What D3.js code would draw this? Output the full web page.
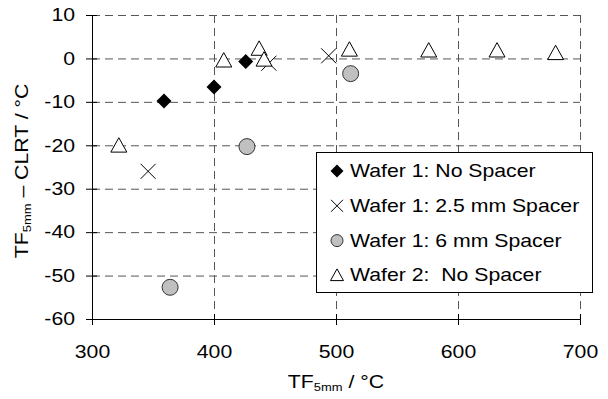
<!DOCTYPE html>
<html>
<head>
<meta charset="utf-8">
<script src="https://cdn.jsdelivr.net/npm/d3@7"></script>
<style>
  body { margin: 0; background: #fff; }
  svg text { font-family: "Liberation Sans", Arial, sans-serif; fill: #000; }
</style>
</head>
<body>
<svg id="chart"></svg>
<script>
var width = 608, height = 399;
var fs = 18, sx = 1.18; // font size, horizontal stretch of the text

// data
var seriesNames = ["Wafer 1: No Spacer", "Wafer 1: 2.5 mm Spacer", "Wafer 1: 6 mm Spacer", "Wafer 2:  No Spacer"];
var noSpacerX = [359, 400, 426];
var noSpacerY = [-9.8, -6.6, -0.7];
var spacer25X = [346, 445, 494];
var spacer25Y = [-26, -1.1, 0.6];
var spacer6X = [427, 512, 364];
var spacer6Y = [-20.3, -3.5, -52.7];
var wafer2X = [322, 408, 437, 441, 511, 576, 632, 680];
var wafer2Y = [-20.1, -0.5, 2.2, -0.3, 2.0, 1.8, 1.8, 1.2];
var xTicks = [300, 400, 500, 600, 700];
var yTicks = [10, 0, -10, -20, -30, -40, -50, -60];

const svg = d3.select('svg#chart')
  .attr('width', width)
  .attr('height', height);

var x = d3.scaleLinear().domain([300, 700]).range([92, 580]);
var y = d3.scaleLinear().domain([-60, 10]).range([319, 15]);

// grid
const grid = svg.append("g").attr("id", "grid");
grid.selectAll(".gridH").data(yTicks.filter(d => d > -60))
  .enter().append("line")
    .attr("x1", x(300)).attr("x2", x(700))
    .attr("y1", d => y(d) + 0.5).attr("y2", d => y(d) + 0.5)
    .style("stroke", "#555")
    .style("stroke-dasharray", "8,5");
grid.selectAll(".gridV").data(xTicks.filter(d => d > 300))
  .enter().append("line")
    .attr("x1", d => x(d) + 0.5).attr("x2", d => x(d) + 0.5)
    .attr("y1", y(10)).attr("y2", y(-60))
    .style("stroke", "#555")
    .style("stroke-dasharray", "8,5");

// axes (plain hyphen for negatives, like the original)
const xAxis = svg.append("g")
  .attr("transform", "translate(0," + y(-60) + ")")
  .call(d3.axisBottom(x).tickValues(xTicks).tickFormat(d => String(d)).tickSize(6).tickPadding(20));
const yAxis = svg.append("g")
  .attr("transform", "translate(" + x(300) + ",0)")
  .call(d3.axisLeft(y).tickValues(yTicks).tickFormat(d => String(d)).tickSize(6).tickPadding(11));

[xAxis, yAxis].forEach(a => {
  a.attr("font-size", null).attr("font-family", null);
  a.select(".domain").style("stroke", "#000");
  a.selectAll(".tick line").style("stroke", "#000");
  a.selectAll(".tick text").style("font-size", fs + "px")
    .each(function() {
      var t = d3.select(this);
      t.attr("x", (+t.attr("x") || 0) / sx).attr("transform", "scale(" + sx + ",1)");
    });
});
// ticks cross the axis
xAxis.selectAll(".tick line").attr("y1", -5);
yAxis.selectAll(".tick line").attr("x1", 5);

// marker drawing
function diamond(g, s) {
  g.append("path").attr("d", `M0,${-s}L${s},0L0,${s}L${-s},0Z`).style("fill", "#000");
}
function cross(g, s) {
  g.append("path").attr("d", `M${-s},${-s}L${s},${s}M${-s},${s}L${s},${-s}`)
    .style("stroke", "#000").style("stroke-width", 1).style("fill", "none");
}
function circle(g, s) {
  g.append("circle").attr("r", s).style("fill", "#c0c0c0").style("stroke", "#333").style("stroke-width", 1);
}
function triangle(g, s) {
  g.append("path").attr("d", `M0,${-s}L${s},${s * 0.8}L${-s},${s * 0.8}Z`)
    .style("fill", "#fff").style("stroke", "#000").style("stroke-width", 1);
}

var series = [
  { xs: noSpacerX, ys: noSpacerY, draw: diamond, size: 7.5, leg: 6.5 },
  { xs: spacer25X, ys: spacer25Y, draw: cross, size: 7.5, leg: 6 },
  { xs: spacer6X, ys: spacer6Y, draw: circle, size: 8, leg: 6 },
  { xs: wafer2X, ys: wafer2Y, draw: triangle, size: 8, leg: 6.5 }
];

const points = svg.append("g").attr("id", "points");
series.forEach(s => {
  s.xs.forEach((v, i) => {
    var g = points.append("g")
      .attr("transform", "translate(" + x(v) + "," + y(s.ys[i]) + ")");
    s.draw(g, s.size);
  });
});

// legend
const legend = svg.append("g").attr("id", "legend");
legend.append("rect")
  .attr("x", 316.5).attr("y", 152.5).attr("width", 276).attr("height", 140)
  .style("fill", "#fff").style("stroke", "#000");
seriesNames.forEach((name, i) => {
  var base = 177 + i * 34.8;
  var g = legend.append("g").attr("transform", "translate(337," + (base - 6) + ")");
  series[i].draw(g, series[i].leg);
  legend.append("text")
    .attr("transform", "translate(350," + base + ") scale(" + sx + ",1)")
    .style("font-size", fs + "px")
    .style("white-space", "pre")
    .attr("xml:space", "preserve")
    .text(name);
});

// axis titles
const xt = svg.append("text")
  .attr("transform", "translate(336,388) scale(" + sx + ",1)")
  .attr("text-anchor", "middle")
  .style("font-size", fs + "px");
xt.append("tspan").text("TF");
xt.append("tspan").attr("dy", 3).style("font-size", "11px").text("5mm");
xt.append("tspan").attr("dy", -3).text(" / °C");

const yt = svg.append("text")
  .attr("transform", "translate(28,171) rotate(-90) scale(" + sx + ",1)")
  .attr("text-anchor", "middle")
  .style("font-size", fs + "px");
yt.append("tspan").text("TF");
yt.append("tspan").attr("dy", 3).style("font-size", "11px").text("5mm");
yt.append("tspan").attr("dy", -3).text(" \u2013 CLRT / °C");
</script>
</body>
</html>
